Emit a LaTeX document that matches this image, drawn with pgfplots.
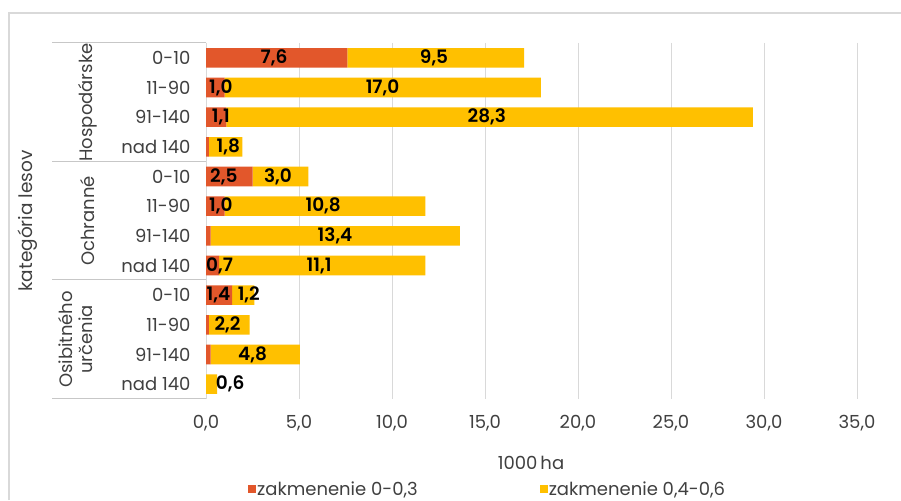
\documentclass[border=0pt]{standalone}
\usepackage{pgfplots}
\pgfplotsset{compat=1.18}
\usepackage{pgfplotstable}
\usepackage{fontspec}
\setmainfont{Poppins}[BoldFont={Poppins SemiBold}]
\definecolor{cred}{HTML}{E2572B}
\definecolor{cyel}{HTML}{FFC000}
\definecolor{cgrid}{HTML}{D9D9D9}
\definecolor{ctext}{HTML}{404040}

\pgfplotstableread{
y red yel
0 7.6 9.5
1 1.0 17.0
2 1.1 28.3
3 0.15 1.8
4 2.5 3.0
5 1.0 10.8
6 0.25 13.4
7 0.7 11.1
8 1.4 1.2
9 0.15 2.2
10 0.25 4.8
11 0.0 0.6
}\datatab

\pgfplotstableread{
x y label
3.66 0 7,6
12.26 0 9,5
0.8 1 1,0
9.49 1 17,0
0.8 2 1,1
15.1 2 28,3
1.2 3 1,8
0.96 4 2,5
3.87 4 3,0
0.8 5 1,0
6.3 5 10,8
6.94 6 13,4
0.73 7 0,7
6.08 7 11,1
0.67 8 1,4
2.3 8 1,2
1.16 9 2,2
2.5 10 4,8
1.3 11 0,6
}\labtab

\begin{document}
\begin{tikzpicture}
\path[use as bounding box] (0,0) rectangle (901pt,500pt);
\fill[white] (0,0) rectangle (901pt,500pt);
% outer frame
\draw[cgrid, line width=1.5pt] (9pt,0) -- (9pt,487pt) -- (901pt,487pt);

\begin{axis}[
  at={(206pt,101pt)}, anchor=south west,
  scale only axis, width=651pt, height=356pt,
  xbar stacked, bar width=0.66,
  xmin=0, xmax=35, ymin=-0.5, ymax=11.5,
  y dir=reverse,
  axis lines*=left,
  x axis line style={draw=none},
  y axis line style={cgrid, line width=1pt},
  xmajorgrids, grid style={cgrid, line width=1pt},
  major tick length=0pt,
  xtick={0,5,...,35},
  xticklabels={{0,0},{5,0},{10,0},{15,0},{20,0},{25,0},{30,0},{35,0}},
  ytick={0,...,11},
  yticklabels={0-10,11-90,91-140,nad 140,0-10,11-90,91-140,nad 140,0-10,11-90,91-140,nad 140},
  ticklabel style={font=\fontsize{18}{20}\selectfont, text=ctext},
  xticklabel style={yshift=-13pt},
  yticklabel style={xshift=-12pt},
  legend image code/.code={\fill[#1,draw=none] (0pt,-4pt) rectangle (8pt,4pt);},
  legend style={at={(0.0645,-0.2528)}, anchor=west, draw=none, fill=none,
    legend columns=2, font=\fontsize{18}{20}\selectfont, text=ctext,
    inner sep=0pt, nodes={inner sep=1pt},
    /tikz/every even column/.append style={column sep=121pt}},
  clip=false,
]
\addplot[fill=cred, draw=none] table[x=red, y=y] {\datatab};
\addlegendentry{zakmenenie 0-0,3}
\addplot[fill=cyel, draw=none] table[x=yel, y=y] {\datatab};
\addlegendentry{zakmenenie 0,4-0,6}
\end{axis}

\begin{axis}[
  at={(206pt,101pt)}, anchor=south west,
  scale only axis, width=651pt, height=356pt,
  xmin=0, xmax=35, ymin=-0.5, ymax=11.5,
  y dir=reverse, hide axis, clip=false,
]
\addplot[draw=none, mark=none, nodes near coords, point meta=explicit symbolic,
  every node near coord/.style={anchor=center, text=black, inner sep=0pt,
    font=\fontsize{18.5}{20}\selectfont\bfseries}]
  table[x=x, y=y, meta=label] {\labtab};
\end{axis}

% hierarchy lines
\draw[cgrid!80!gray, line width=1pt] (52pt,457pt) -- (206pt,457pt);
\draw[cgrid!80!gray, line width=1pt] (52pt,338pt) -- (206pt,338pt);
\draw[cgrid!80!gray, line width=1pt] (52pt,220pt) -- (206pt,220pt);
\draw[cgrid!80!gray, line width=1pt] (52pt,101pt) -- (206pt,101pt);

\begin{scope}[every node/.style={text=ctext, font=\fontsize{18}{20}\selectfont}]
\node[rotate=90] at (88pt,397.5pt) {Hospodárske};
\node[rotate=90] at (88pt,279pt) {Ochranné};
\node[rotate=90, align=center, font=\fontsize{18}{20}\selectfont] at (76pt,160.5pt) {Osibitného\\určenia};
\node[rotate=90, font=\fontsize{18.5}{20}\selectfont] at (28pt,279pt) {kategória lesov};
\node[font=\fontsize{18}{20}\selectfont] at (531pt,37pt) {1000\,ha};
\end{scope}
\end{tikzpicture}
\end{document}
